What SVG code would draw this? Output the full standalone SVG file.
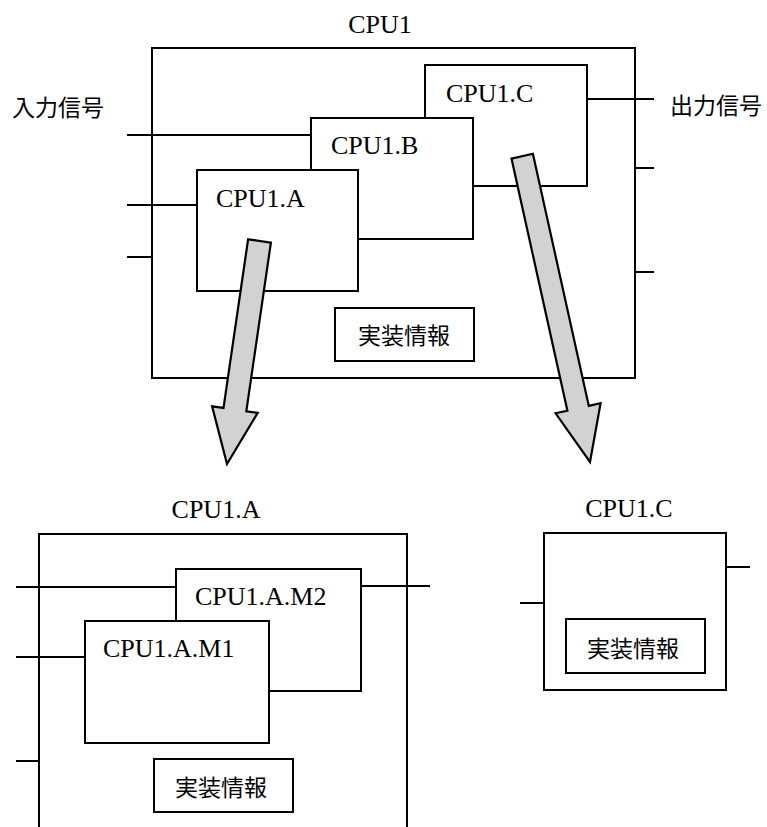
<svg xmlns="http://www.w3.org/2000/svg" width="767" height="827" viewBox="0 0 767 827">
<style>
.box{fill:#fff;stroke:#000;stroke-width:2}
.ln{stroke:#000;stroke-width:2;fill:none}
.lat{font-family:"Liberation Serif","Times New Roman",serif;font-size:26px;fill:#000}
.jp{font-family:"Noto Sans CJK JP","Noto Sans CJK SC",sans-serif;font-size:23px;fill:#000}
.arrow{fill:#d2d2d2;stroke:#000;stroke-width:2.2;stroke-linejoin:miter}
</style>
<rect width="767" height="827" fill="#fff"/>

<g id="cpu1">
  <rect class="box" x="152" y="48" width="483" height="330"/>
  <text class="lat" x="380" y="33" text-anchor="middle" font-size="27">CPU1</text>
</g>

<g id="connectors">
  <line class="ln" x1="127" y1="135" x2="311" y2="135"/>
  <line class="ln" x1="127" y1="205" x2="197" y2="205"/>
  <line class="ln" x1="127" y1="257" x2="152" y2="257"/>
  <line class="ln" x1="587" y1="99" x2="654" y2="99"/>
  <line class="ln" x1="635" y1="168" x2="654" y2="168"/>
  <line class="ln" x1="635" y1="272" x2="654" y2="272"/>
  <line class="ln" x1="16" y1="587" x2="176" y2="587"/>
  <line class="ln" x1="361" y1="586" x2="430" y2="586"/>
  <line class="ln" x1="16" y1="657" x2="85" y2="657"/>
  <line class="ln" x1="16" y1="761" x2="39" y2="761"/>
  <line class="ln" x1="726" y1="567" x2="750" y2="567"/>
  <line class="ln" x1="520" y1="603" x2="544" y2="603"/>
</g>

<g id="labels">
  <text class="jp" x="12" y="116">入力信号</text>
  <text class="jp" x="670" y="114" font-size="24">出力信号</text>
</g>

<g id="cpu1c">
  <rect class="box" x="425" y="65" width="162" height="121"/>
  <text class="lat" x="446" y="102">CPU1.C</text>
</g>
<g id="cpu1b">
  <rect class="box" x="311" y="118" width="162" height="121"/>
  <text class="lat" x="331" y="154">CPU1.B</text>
</g>
<g id="cpu1a">
  <rect class="box" x="197" y="170" width="161" height="121"/>
  <text class="lat" x="216" y="207">CPU1.A</text>
</g>
<g id="impl1">
  <rect class="box" x="335" y="308" width="139" height="53"/>
  <text class="jp" x="404" y="344" text-anchor="middle" font-size="24">実装情報</text>
</g>

<g id="cpu1a-detail">
  <path class="ln" d="M39,827 V534 H407 V827"/>
  <text class="lat" x="216" y="518" text-anchor="middle">CPU1.A</text>
</g>
<g id="cpu1am2">
  <rect class="box" x="176" y="569" width="185" height="122"/>
  <text class="lat" x="195" y="605">CPU1.A.M2</text>
</g>
<g id="cpu1am1">
  <rect class="box" x="85" y="621" width="184" height="122"/>
  <text class="lat" x="103" y="657">CPU1.A.M1</text>
</g>
<g id="impl2">
  <rect class="box" x="154" y="759" width="139" height="53"/>
  <text class="jp" x="221" y="796" text-anchor="middle" font-size="24">実装情報</text>
</g>

<g id="cpu1c-detail">
  <rect class="box" x="544" y="533" width="182" height="157"/>
  <text class="lat" x="629" y="517" text-anchor="middle">CPU1.C</text>
</g>
<g id="impl3">
  <rect class="box" x="566" y="619" width="139" height="54"/>
  <text class="jp" x="633" y="657" text-anchor="middle" font-size="24">実装情報</text>
</g>

<g id="arrows">
  <polygon class="arrow" points="248.1,239.3 270.9,242.7 246.3,411.3 257.7,412.9 227,464 212.1,406.3 223.5,407.9"/>
  <polygon class="arrow" points="511.5,158.6 532.9,153.8 588.8,405.9 600.6,403.3 590,462 555.6,413.3 567.4,410.7"/>
</g>
</svg>
